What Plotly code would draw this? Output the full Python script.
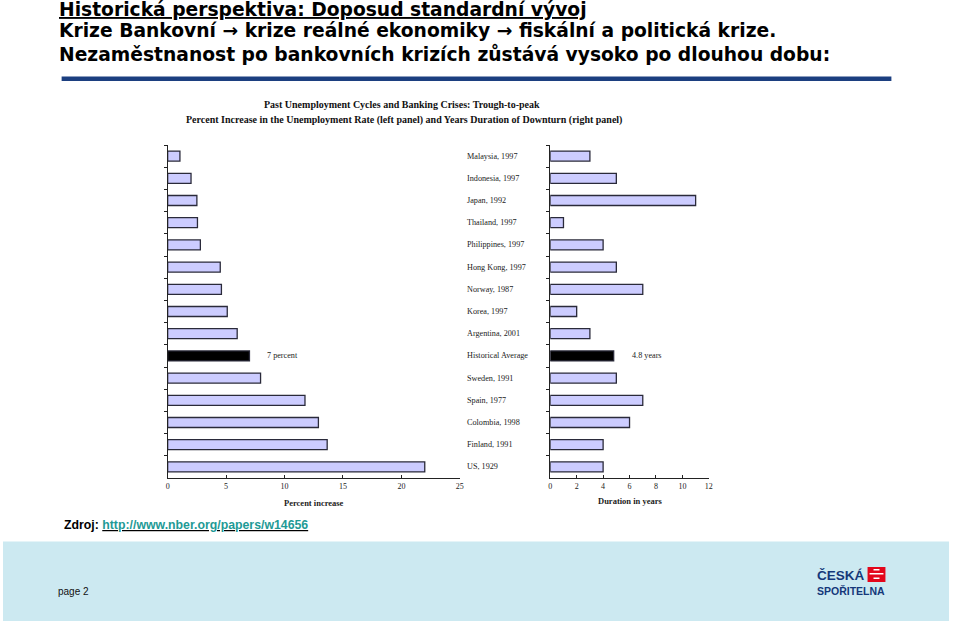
import plotly.graph_objects as go

categories = ["Malaysia, 1997", "Indonesia, 1997", "Japan, 1992", "Thailand, 1997",
              "Philippines, 1997", "Hong Kong, 1997", "Norway, 1987", "Korea, 1997",
              "Argentina, 2001", "Historical Average", "Sweden, 1991", "Spain, 1977",
              "Colombia, 1998", "Finland, 1991", "US, 1929"]
pct_increase = [1.05, 2.0, 2.5, 2.55, 2.8, 4.5, 4.6, 5.1, 5.95, 7.0, 7.95, 11.75, 12.9, 13.65, 22.0]
duration_years = [3, 5, 11, 1, 4, 5, 7, 2, 3, 4.8, 5, 7, 6, 4, 4]
left_ticks = [0, 5, 10, 15, 20, 25]
right_ticks = [0, 2, 4, 6, 8, 10, 12]

W, H = 959, 623
def px(x):
    return x / W
def py(y):
    return 1 - y / H

bar_color = "#ccccff"
avg_color = "#000000"
colors = [avg_color if c == "Historical Average" else bar_color for c in categories]
serif = "Liberation Serif"
outline = dict(color="#2a2a3a", width=1.3)

fig = go.Figure()
fig.add_trace(go.Bar(y=categories, x=pct_increase, orientation="h", xaxis="x", yaxis="y",
                     marker=dict(color=colors, line=outline),
                     width=0.45, showlegend=False, hoverinfo="x+y"))
fig.add_trace(go.Bar(y=categories, x=duration_years, orientation="h", xaxis="x2", yaxis="y2",
                     marker=dict(color=colors, line=outline),
                     width=0.45, showlegend=False, hoverinfo="x+y"))

ydom = [py(478), py(145)]
yax = dict(domain=ydom, type="category", categoryorder="array", categoryarray=categories,
           autorange="reversed", showticklabels=False, showline=True, linecolor="#222",
           linewidth=1, ticks="outside", tickson="boundaries", ticklen=3, tickcolor="#222",
           showgrid=False, zeroline=False, fixedrange=True)
tickfont = dict(family=serif, size=8, color="#222")
xcommon = dict(showline=True, linecolor="#222", linewidth=1, ticks="inside", ticklen=3,
               tickcolor="#222", tickfont=tickfont, showgrid=False, zeroline=False)
fig.update_layout(
    width=W, height=H, margin=dict(l=0, r=0, t=0, b=0),
    paper_bgcolor="white", plot_bgcolor="white",
    xaxis=dict(domain=[px(166.7), px(460.7)], range=[0, 25], tickvals=left_ticks,
               anchor="y", **xcommon),
    xaxis2=dict(domain=[px(551.7), px(711.3)], range=[0, 12], tickvals=right_ticks,
                anchor="y2", **xcommon),
    yaxis=dict(**yax, anchor="x"),
    yaxis2=dict(**yax, anchor="x2"),
    bargap=0.55,
)

ann = []
# Header text
hfont = dict(family="DejaVu Sans", size=18.7, color="#000")
ann.append(dict(x=px(55), y=py(10), xref="paper", yref="paper", xanchor="left", yanchor="middle",
                text="<b><u>Historická perspektiva: Doposud standardní vývoj</u></b>", showarrow=False, font=hfont))
ann.append(dict(x=px(55), y=py(31), xref="paper", yref="paper", xanchor="left", yanchor="middle",
                text="<b>Krize Bankovní → krize reálné ekonomiky → fiskální a politická krize.</b>", showarrow=False, font=hfont))
ann.append(dict(x=px(55), y=py(54), xref="paper", yref="paper", xanchor="left", yanchor="middle",
                text="<b>Nezaměstnanost po bankovních krizích zůstává vysoko po dlouhou dobu:</b>", showarrow=False, font=hfont))

# Chart titles
ann.append(dict(x=px(403), y=py(105), xref="paper", yref="paper", xanchor="center", yanchor="middle",
                text="<b>Past Unemployment Cycles and Banking Crises: Trough-to-peak</b>", showarrow=False,
                font=dict(family=serif, size=10, color="#111")))
ann.append(dict(x=px(405), y=py(120), xref="paper", yref="paper", xanchor="center", yanchor="middle",
                text="<b>Percent Increase in the Unemployment Rate (left panel) and Years Duration of Downturn (right panel)</b>",
                showarrow=False, font=dict(family=serif, size=10, color="#111")))

# Category labels
for c in categories:
    ann.append(dict(x=px(466), y=c, xref="paper", yref="y2", xanchor="left", yanchor="middle",
                    text=c, showarrow=False, font=dict(family=serif, size=8.2, color="#222")))

ann.append(dict(x=px(265), y="Historical Average", xref="paper", yref="y", xanchor="left", yanchor="middle",
                text="7 percent", showarrow=False, font=dict(family=serif, size=8.2, color="#222")))
ann.append(dict(x=px(632), y="Historical Average", xref="paper", yref="y2", xanchor="left", yanchor="middle",
                text="4.8 years", showarrow=False, font=dict(family=serif, size=8.2, color="#222")))

ann.append(dict(x=px(314), y=py(503), xref="paper", yref="paper", xanchor="center", yanchor="middle",
                text="<b>Percent increase</b>", showarrow=False, font=dict(family=serif, size=8.5, color="#222")))
ann.append(dict(x=px(632), y=py(501), xref="paper", yref="paper", xanchor="center", yanchor="middle",
                text="<b>Duration in years</b>", showarrow=False, font=dict(family=serif, size=8.5, color="#222")))

# Footer
ann.append(dict(x=px(60), y=py(525), xref="paper", yref="paper", xanchor="left", yanchor="middle",
                text="<b>Zdroj: </b><b><u><span style='color:#1e9a96'>http://www.nber.org/papers/w14656</span></u></b>",
                showarrow=False, font=dict(family="Liberation Sans", size=12.3, color="#000")))
ann.append(dict(x=px(54), y=py(591), xref="paper", yref="paper", xanchor="left", yanchor="middle",
                text="page 2", showarrow=False, font=dict(family="Liberation Sans", size=10, color="#111")))
ann.append(dict(x=px(819), y=py(584), xref="paper", yref="paper", xanchor="left", yanchor="bottom",
                borderpad=0, text="<b>ČESKÁ</b>", showarrow=False,
                font=dict(family="Liberation Sans", size=13.5, color="#14387a")))
ann.append(dict(x=px(819), y=py(584), xref="paper", yref="paper", xanchor="left", yanchor="top",
                borderpad=0, text="<b>SPOŘITELNA</b>", showarrow=False,
                font=dict(family="Liberation Sans", size=10.5, color="#14387a")))
fig.update_layout(annotations=ann)

shapes = []
shapes.append(dict(type="rect", xref="paper", yref="paper", x0=px(60), x1=px(895), y0=py(81), y1=py(76.5),
                   fillcolor="#1c3f80", line=dict(width=0), layer="below"))
shapes.append(dict(type="rect", xref="paper", yref="paper", x0=px(1), x1=px(953), y0=py(621), y1=py(541.5),
                   fillcolor="#cce9f1", line=dict(width=0), layer="below"))
# logo icon
shapes.append(dict(type="rect", xref="paper", yref="paper", x0=px(871), x1=px(889), y0=py(582), y1=py(567),
                   fillcolor="#e3061b", line=dict(width=0)))
shapes.append(dict(type="rect", xref="paper", yref="paper", x0=px(873), x1=px(887), y0=py(574.5), y1=py(573),
                   fillcolor="#ffffff", line=dict(width=0)))
shapes.append(dict(type="rect", xref="paper", yref="paper", x0=px(877), x1=px(883), y0=py(570.5), y1=py(569),
                   fillcolor="#ffffff", line=dict(width=0)))
shapes.append(dict(type="rect", xref="paper", yref="paper", x0=px(877), x1=px(883), y0=py(579), y1=py(577.5),
                   fillcolor="#ffffff", line=dict(width=0)))
fig.update_layout(shapes=shapes)

fig.write_html("out.html")
